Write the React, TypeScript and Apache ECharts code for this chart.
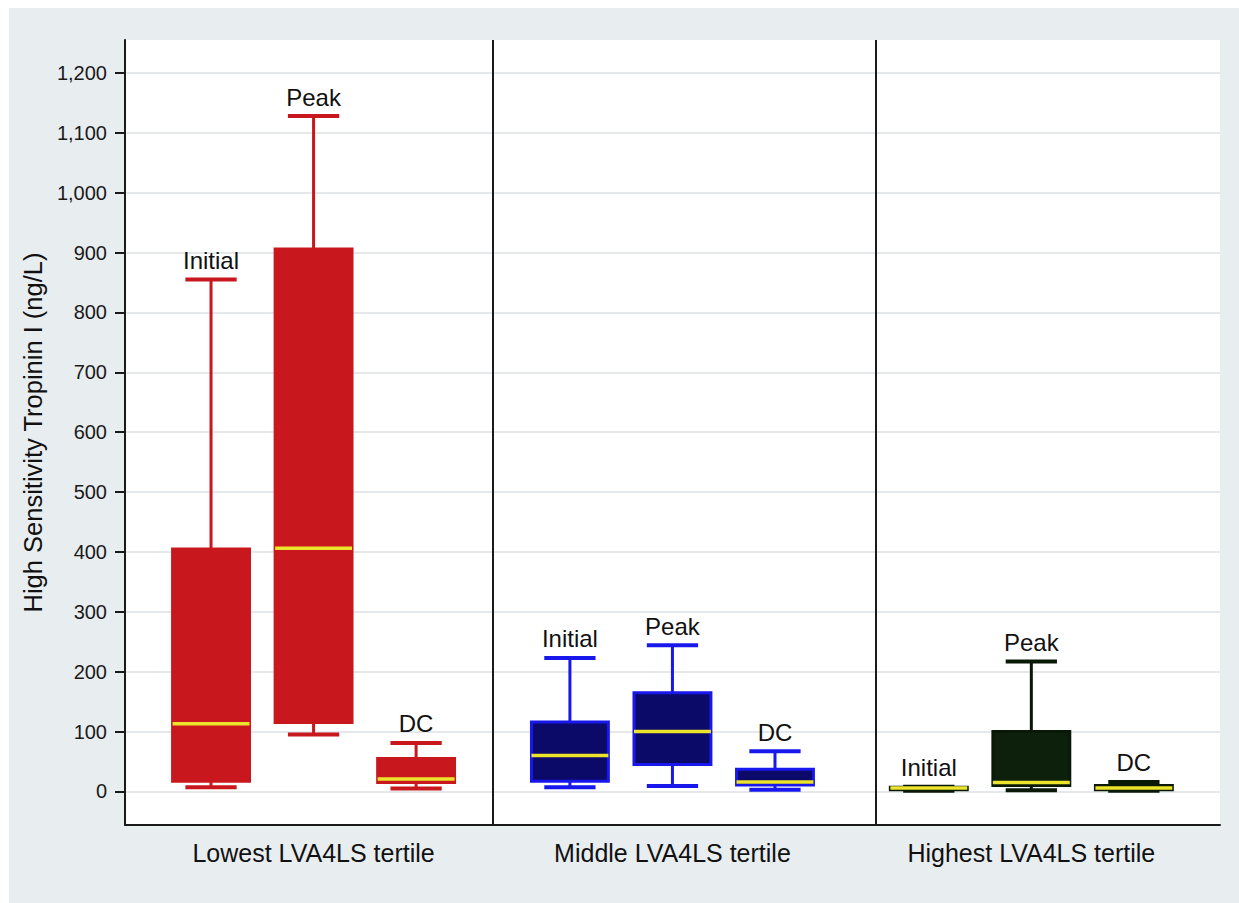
import { useEffect, useRef } from "react";
import * as echarts from "echarts";

// Tertile groups and the three measurement times drawn in each
const groupNames = ["Lowest LVA4LS tertile", "Middle LVA4LS tertile", "Highest LVA4LS tertile"];
const groupCenters = [2, 5.5, 9];
const phaseNames = ["Initial", "Peak", "DC"];
const boxPositions = [
  [1, 2, 3],
  [4.5, 5.5, 6.5],
  [8, 9, 10],
];
const dividerPositions = [3.75, 7.48];

// Box statistics per time point: [lower whisker, Q1, median, Q3, upper whisker] (ng/L)
const lowestTertile = [
  [7, 17, 113, 405, 855],
  [95, 115, 406, 906, 1128],
  [5, 15, 21, 55, 81],
];
const middleTertile = [
  [7, 17, 60, 116, 223],
  [9, 45, 100, 165, 244],
  [3, 11, 16, 37, 67],
];
const highestTertile = [
  [1, 3, 6, 7, 8],
  [2, 10, 15, 100, 217],
  [1, 3, 6, 10, 16],
];

const yTicks = [0, 100, 200, 300, 400, 500, 600, 700, 800, 900, 1000, 1100, 1200];

const groupColors = [
  { fill: "#c8181d", stroke: "#c8181d", whisker: "#c8181d" },
  { fill: "#0c0a68", stroke: "#1818ec", whisker: "#1818ec" },
  { fill: "#0d200c", stroke: "#0a1808", whisker: "#0a1808" },
];
const medianColor = "#ece42a";

const FONT = "Liberation Sans, Arial, Helvetica, sans-serif";

export default function App() {
  const ref = useRef<HTMLDivElement>(null);

  useEffect(() => {
    if (!ref.current) return;
    const chart = echarts.init(ref.current, null, { renderer: "svg" });

    const allGroups = [lowestTertile, middleTertile, highestTertile];
    const boxData: number[][] = [];
    allGroups.forEach((grp, gi) => {
      grp.forEach((stats, pi) => {
        boxData.push([boxPositions[gi][pi], ...stats, gi, pi]);
      });
    });

    const renderItem = (_params: any, api: any) => {
      const x = api.value(0);
      const mn = api.value(1);
      const q1 = api.value(2);
      const md = api.value(3);
      const q3 = api.value(4);
      const mx = api.value(5);
      const gi = api.value(6);
      const pi = api.value(7);
      const col = groupColors[gi];

      const pMin = api.coord([x, mn]);
      const pQ1 = api.coord([x, q1]);
      const pMd = api.coord([x, md]);
      const pQ3 = api.coord([x, q3]);
      const pMax = api.coord([x, mx]);
      const half = api.size([0.75, 0])[0] / 2;
      const capHalf = api.size([0.5, 0])[0] / 2;
      const cx = pMd[0];

      return {
        type: "group",
        children: [
          {
            type: "line",
            shape: { x1: cx, y1: pQ3[1], x2: cx, y2: pMax[1] },
            style: { stroke: col.whisker, lineWidth: 3 },
          },
          {
            type: "line",
            shape: { x1: cx, y1: pQ1[1], x2: cx, y2: pMin[1] },
            style: { stroke: col.whisker, lineWidth: 3 },
          },
          {
            type: "line",
            shape: { x1: cx - capHalf, y1: pMax[1], x2: cx + capHalf, y2: pMax[1] },
            style: { stroke: col.whisker, lineWidth: 4 },
          },
          {
            type: "line",
            shape: { x1: cx - capHalf, y1: pMin[1], x2: cx + capHalf, y2: pMin[1] },
            style: { stroke: col.whisker, lineWidth: 4 },
          },
          {
            type: "rect",
            shape: { x: cx - half, y: pQ3[1], width: half * 2, height: Math.max(pQ1[1] - pQ3[1], 0.5) },
            style: { fill: col.fill, stroke: col.stroke, lineWidth: 3 },
          },
          {
            type: "line",
            shape: { x1: cx - half, y1: pMd[1], x2: cx + half, y2: pMd[1] },
            style: { stroke: medianColor, lineWidth: 3.5 },
          },
          {
            type: "text",
            x: cx,
            y: pMax[1] - 7,
            style: {
              text: phaseNames[pi],
              fill: "#111",
              font: `24px ${FONT}`,
              textAlign: "center",
              textVerticalAlign: "bottom",
            },
          },
        ],
      };
    };

    chart.setOption({
      animation: false,
      backgroundColor: "#e8edf0",
      grid: {
        left: 116,
        right: 19,
        top: 32,
        bottom: 78,
        show: true,
        backgroundColor: "#ffffff",
        borderWidth: 0,
      },
      xAxis: {
        type: "value",
        min: 0.161,
        max: 10.84,
        axisLine: { show: true, onZero: false, lineStyle: { color: "#1a1a1a", width: 2 } },
        axisTick: { show: false },
        splitLine: { show: false },
        axisLabel: {
          customValues: groupCenters,
          formatter: (v: number) => {
            const i = groupCenters.indexOf(v);
            return i >= 0 ? groupNames[i] : "";
          },
          color: "#111",
          fontSize: 25,
          fontFamily: FONT,
          margin: 15,
        },
      },
      yAxis: {
        type: "value",
        min: -56,
        max: 1255,
        name: "High Sensitivity Tropinin I (ng/L)",
        nameLocation: "middle",
        nameGap: 76,
        nameTextStyle: { color: "#111", fontSize: 25.5, fontFamily: FONT },
        axisLine: { show: true, lineStyle: { color: "#1a1a1a", width: 2 } },
        axisTick: {
          show: true,
          customValues: yTicks,
          length: 10,
          lineStyle: { color: "#1a1a1a", width: 2 },
        },
        axisLabel: {
          customValues: yTicks,
          formatter: (v: number) => v.toLocaleString("en-US"),
          color: "#1a1a1a",
          fontSize: 20,
          fontFamily: FONT,
          margin: 18,
        },
        splitLine: { show: true, lineStyle: { color: "#e6e9eb", width: 2 } },
      },
      series: [
        {
          type: "custom",
          renderItem,
          data: boxData,
          encode: { x: 0, y: [1, 5] },
          clip: false,
          markLine: {
            silent: true,
            symbol: "none",
            label: { show: false },
            lineStyle: { color: "#1a1a1a", width: 2, type: "solid" },
            data: dividerPositions.map((v) => ({ xAxis: v })),
          },
        },
      ],
    });

    return () => chart.dispose();
  }, []);

  return (
    <div style={{ position: "fixed", left: 0, top: 0, width: 1239, height: 903, background: "#ffffff" }}>
      <div ref={ref} style={{ position: "absolute", left: 9, top: 8, width: 1230, height: 895 }} />
    </div>
  );
}
